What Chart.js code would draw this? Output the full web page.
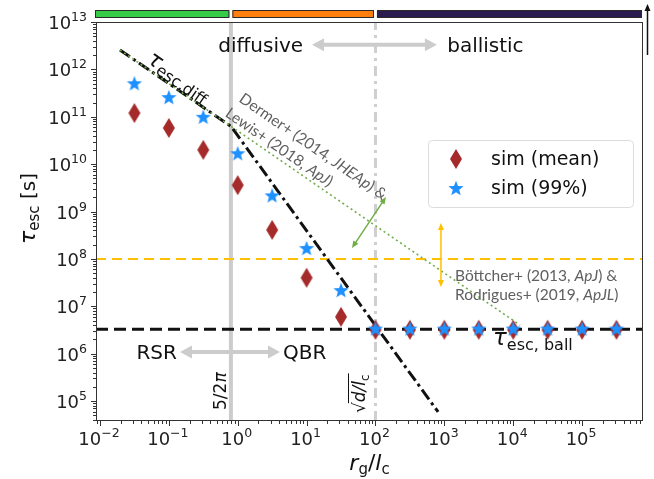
<!DOCTYPE html>
<html>
<head>
<meta charset="utf-8">
<script src="https://cdn.jsdelivr.net/npm/chart.js@4.4.0/dist/chart.umd.min.js"></script>
<style>
  html, body { margin: 0; padding: 0; background: #fff; }
</style>
</head>
<body>
<canvas id="chart" width="654" height="479"></canvas>
<script>
// --- data ---
const rgOverLc = [0.0316, 0.1, 0.316, 1, 3.16, 10, 31.6, 100, 316, 1000, 3160, 1e4, 3.16e4, 1e5, 3.16e5];
const tauMean = [1.2e11, 5.8e10, 2.0e10, 3.6e9, 4.1e8, 4.0e7, 6.0e6, 3.2e6, 3.2e6, 3.2e6, 3.2e6, 3.2e6, 3.2e6, 3.2e6, 3.2e6];
const tau99 = [5.1e11, 2.6e11, 1.0e11, 1.7e10, 2.2e9, 1.7e8, 2.2e7, 3.4e6, 3.4e6, 3.4e6, 3.4e6, 3.4e6, 3.4e6, 3.4e6, 3.4e6];

// analytic tau_esc,diff (slope -1 then -2)
const diffX = [0.0195, 0.796, 813];
const diffY = [2.57e12, 6.3e10, 5.9e4];
// Dermer / Lewis scaling
const litX = [0.0195, 1.26e4];
const litY = [2.57e12, 4.0e6];

const tauBall = 3.3e6;
const tauBottcher = 1e8;
const rsrQbr = 5 / (2 * Math.PI);
const sqrtDlc = 100;

const xLimits = [0.00875, 7.67e5];
const yLimits = [3.8e4, 1e13];
const xTickExp = [-2, -1, 0, 1, 2, 3, 4, 5];
const yTickExp = [5, 6, 7, 8, 9, 10, 11, 12, 13];

const FONT = "'DejaVu Sans', sans-serif";
const NOTE_FONT = "Lato, 'Open Sans', sans-serif";
const NOTE_SIZE = 15.5;

// marker images
function starImg(r, color) {
    const s = Math.ceil(r * 2) + 2;
    const c = document.createElement('canvas');
    c.width = c.height = s;
    const g = c.getContext('2d');
    g.translate(s / 2, s / 2 + r * 0.1);
    g.beginPath();
    for (let i = 0; i < 10; i++) {
        const rr = i % 2 ? r * 0.42 : r;
        const a = -Math.PI / 2 + i * Math.PI / 5;
        g.lineTo(rr * Math.cos(a), rr * Math.sin(a));
    }
    g.closePath();
    g.fillStyle = color;
    g.fill();
    return c;
}
function diamondImg(hw, hh, color) {
    const c = document.createElement('canvas');
    c.width = Math.ceil(hw * 2) + 2;
    c.height = Math.ceil(hh * 2) + 2;
    const g = c.getContext('2d');
    g.translate(c.width / 2, c.height / 2);
    g.beginPath();
    g.moveTo(0, -hh); g.lineTo(hw, 0); g.lineTo(0, hh); g.lineTo(-hw, 0);
    g.closePath();
    g.fillStyle = color;
    g.fill();
    return c;
}
const STAR = starImg(8, '#1e90ff');
const DIAMOND = diamondImg(6, 10, '#a52a2a');

const pts = (xs, ys) => xs.map((x, i) => ({ x, y: ys[i] }));

// text with sub/superscripts: parts = [text, size, italic, dy, family]
function rich(ctx, parts, x, y, align) {
    let w = 0;
    const ms = parts.map(p => {
        ctx.font = (p[2] ? 'italic ' : '') + p[1] + 'px ' + (p[4] || FONT);
        const m = ctx.measureText(p[0]).width;
        w += m;
        return m;
    });
    let cx = align === 'right' ? x - w : align === 'center' ? x - w / 2 : x;
    parts.forEach((p, i) => {
        ctx.font = (p[2] ? 'italic ' : '') + p[1] + 'px ' + (p[4] || FONT);
        ctx.fillText(p[0], cx, y + (p[3] || 0));
        cx += ms[i];
    });
    return w;
}

function arrow(ctx, x1, y1, x2, y2, color, lw, hl, hw, both) {
    const a = Math.atan2(y2 - y1, x2 - x1);
    const len = Math.hypot(x2 - x1, y2 - y1);
    ctx.save();
    ctx.translate(x1, y1);
    ctx.rotate(a);
    ctx.strokeStyle = color;
    ctx.fillStyle = color;
    ctx.lineWidth = lw;
    ctx.beginPath();
    ctx.moveTo(both ? hl * 0.8 : 0, 0);
    ctx.lineTo(len - hl * 0.8, 0);
    ctx.stroke();
    const head = (px, dir) => {
        ctx.beginPath();
        ctx.moveTo(px, 0);
        ctx.lineTo(px - dir * hl, -hw / 2);
        ctx.lineTo(px - dir * hl, hw / 2);
        ctx.closePath();
        ctx.fill();
    };
    head(len, 1);
    if (both) head(0, -1);
    ctx.restore();
}

const sup = n => String(n).replace('-', '\u2212');
const note = (t, it) => [t, NOTE_SIZE, !!it, 0, NOTE_FONT];

const annotations = {
    id: 'annotations',
    afterDatasetsDraw(chart) {
        const { ctx, scales: { x, y } } = chart;
        const X = v => x.getPixelForValue(v);
        const Y = v => y.getPixelForValue(v);
        // angle of a slope -1 power law on screen
        const decX = X(10) - X(1), decY = Y(1) - Y(10);
        const ang = Math.atan2(decY, decX);

        ctx.save();
        ctx.textBaseline = 'alphabetic';

        // diffusive <-> ballistic
        arrow(ctx, X(12), Y(3.3e12), X(780), Y(3.3e12), '#cccccc', 4, 12, 13, true);
        ctx.fillStyle = '#111';
        rich(ctx, [['diffusive', 20]], X(8.9), Y(3.3e12) + 7, 'right');
        rich(ctx, [['ballistic', 20]], X(1100), Y(3.3e12) + 7, 'left');

        // RSR <-> QBR
        arrow(ctx, X(0.145), Y(1.09e6), X(4.1), Y(1.09e6), '#cccccc', 4, 12, 13, true);
        rich(ctx, [['RSR', 20]], X(0.131), Y(1.09e6) + 7, 'right');
        rich(ctx, [['QBR', 20]], X(4.54), Y(1.09e6) + 7, 'left');

        // green and orange double arrows
        arrow(ctx, X(45.6), Y(1.7e8), X(142), Y(2.03e9), '#70ad47', 1.5, 7, 6, true);
        arrow(ctx, X(893), Y(2.56e7), X(893), Y(5.7e8), '#ffc000', 1.5, 7, 6, true);

        // tau_esc,diff
        ctx.save();
        ctx.translate(X(0.0466), Y(1.43e12));
        ctx.rotate(ang);
        ctx.fillStyle = '#111';
        rich(ctx, [['\u03c4', 22, true], ['esc,diff', 16, false, 4]], 0, 0, 'left');
        ctx.restore();

        // Dermer / Lewis
        ctx.save();
        ctx.translate(X(1.01), Y(2.15e11));
        ctx.rotate(ang);
        ctx.fillStyle = '#606060';
        rich(ctx, [note('Dermer+ (2014, '), note('JHEAp', true), note(') &')], 0, 0, 'left');
        rich(ctx, [note('Lewis+ (2018, '), note('ApJ', true), note(')')], -3, 20, 'left');
        ctx.restore();

        // Boettcher / Rodrigues
        ctx.fillStyle = '#606060';
        rich(ctx, [note('Böttcher+ (2013, '), note('ApJ', true), note(') &')], X(1430), Y(3.43e7), 'left');
        rich(ctx, [note('Rodrigues+ (2019, '), note('ApJL', true), note(')')], X(1430), Y(3.43e7) + 19, 'left');

        // tau_esc,ball
        ctx.fillStyle = '#111';
        rich(ctx, [['\u03c4', 23, true], ['esc, ball', 16, false, 5]], X(5080), Y(1.53e6), 'left');

        // 5/2pi and sqrt(d/lc)
        ctx.save();
        ctx.translate(X(0.676), Y(6.5e4));
        ctx.rotate(-Math.PI / 2);
        rich(ctx, [['5/2', 17], ['\u03c0', 17, true]], 0, 0, 'left');
        ctx.restore();

        ctx.save();
        ctx.translate(X(70.5), Y(5.6e4));
        ctx.rotate(-Math.PI / 2);
        const w0 = rich(ctx, [['\u221a', 17]], 0, 0, 'left');
        const w1 = rich(ctx, [['d/', 17, true], ['l', 17, true], ['c', 12, false, 4]], w0, 0, 'left');
        ctx.strokeStyle = '#111';
        ctx.lineWidth = 1;
        ctx.beginPath();
        ctx.moveTo(w0 - 1, -16.5);
        ctx.lineTo(w0 + w1 + 1, -16.5);
        ctx.stroke();
        ctx.restore();

        ctx.restore();
    },
    afterDraw(chart) {
        const { ctx, chartArea: ca, scales: { x, y } } = chart;
        const X = v => x.getPixelForValue(v);
        const Y = v => y.getPixelForValue(v);
        ctx.save();

        // frame
        ctx.strokeStyle = '#333';
        ctx.lineWidth = 1;
        ctx.strokeRect(ca.left + 0.5, ca.top + 0.5, ca.right - ca.left - 1, ca.bottom - ca.top - 1);

        // ticks
        ctx.beginPath();
        const lx0 = Math.floor(Math.log10(xLimits[0])), lx1 = Math.ceil(Math.log10(xLimits[1]));
        for (let e = lx0; e <= lx1; e++) {
            for (let k = 1; k <= 9; k++) {
                const v = k * Math.pow(10, e);
                if (v < xLimits[0] || v > xLimits[1]) continue;
                const px = Math.round(X(v)) + 0.5;
                ctx.moveTo(px, ca.bottom);
                ctx.lineTo(px, ca.bottom + (k === 1 ? 5 : 3));
            }
        }
        const ly0 = Math.floor(Math.log10(yLimits[0])), ly1 = Math.ceil(Math.log10(yLimits[1]));
        for (let e = ly0; e <= ly1; e++) {
            for (let k = 1; k <= 9; k++) {
                const v = k * Math.pow(10, e);
                if (v < yLimits[0] || v > yLimits[1] * 1.0001) continue;
                const py = Math.round(Y(v)) + 0.5;
                ctx.moveTo(ca.left, py);
                ctx.lineTo(ca.left - (k === 1 ? 5 : 3), py);
            }
        }
        ctx.stroke();

        // tick labels
        ctx.fillStyle = '#222';
        ctx.textBaseline = 'alphabetic';
        xTickExp.forEach(e => {
            rich(ctx, [['10', 18], [sup(e), 12.5, false, -8]], X(Math.pow(10, e)) - 1, ca.bottom + 24, 'center');
        });
        yTickExp.forEach(e => {
            rich(ctx, [['10', 18], [sup(e), 12.5, false, -8]], ca.left - 9, Y(Math.pow(10, e)) + 7, 'right');
        });

        // axis titles
        ctx.fillStyle = '#111';
        rich(ctx, [['r', 22, true], ['g', 15, false, 4], ['/', 22], ['l', 22, true], ['c', 15, false, 4]], (ca.left + ca.right) / 2, ca.bottom + 49, 'center');
        ctx.save();
        ctx.translate(ca.left - 61, (ca.top + ca.bottom) / 2 - 13);
        ctx.rotate(-Math.PI / 2);
        rich(ctx, [['\u03c4', 22, true], ['esc', 15, false, 4], [' [s]', 20]], 0, 0, 'center');
        ctx.restore();

        // regime bars above the axes
        const bars = [
            [xLimits[0], rsrQbr, '#37cc48'],
            [rsrQbr, sqrtDlc, '#ff7f0e'],
            [sqrtDlc, xLimits[1], '#2b1b4e']
        ];
        bars.forEach(([a, b, col], i) => {
            const x0 = X(a) + (i === 0 ? -1 : 1.5), x1 = X(b) - (i === 2 ? 1 : 1.5);
            ctx.fillStyle = col;
            ctx.fillRect(x0, ca.top - 11, x1 - x0, 6);
            ctx.strokeStyle = '#2a2a2a';
            ctx.lineWidth = 1;
            ctx.strokeRect(x0 + 0.5, ca.top - 11.5, x1 - x0 - 1, 7);
        });

        // arrow at the right edge
        arrow(ctx, ca.right + 4.5, ca.top + 33, ca.right + 4.5, ca.top - 18, '#111', 1.5, 7, 6, false);

        // legend
        const lx = ca.right - 215, ly = ca.top + 118, lw = 205, lh = 67;
        ctx.fillStyle = 'rgba(255,255,255,0.8)';
        ctx.strokeStyle = '#dcdcdc';
        ctx.lineWidth = 1;
        ctx.beginPath();
        ctx.roundRect(lx + 0.5, ly + 0.5, lw, lh, 4);
        ctx.fill();
        ctx.stroke();
        ctx.drawImage(DIAMOND, lx + 28 - DIAMOND.width / 2, ly + 19 - DIAMOND.height / 2);
        ctx.drawImage(STAR, lx + 28 - STAR.width / 2, ly + 48 - STAR.height / 2);
        ctx.fillStyle = '#111';
        rich(ctx, [['sim (mean)', 19]], lx + 63, ly + 25, 'left');
        rich(ctx, [['sim (99%)', 19]], lx + 63, ly + 54, 'left');

        ctx.restore();
    }
};

const lineDs = (data, color, width, dash, order) => ({
    data, borderColor: color, borderWidth: width, borderDash: dash,
    showLine: true, pointRadius: 0, fill: false, tension: 0, order
});

new Chart(document.getElementById('chart'), {
    type: 'scatter',
    data: {
        datasets: [
            { label: 'sim (99%)', data: pts(rgOverLc, tau99), pointStyle: STAR, pointRadius: 8, order: 0 },
            { label: 'sim (mean)', data: pts(rgOverLc, tauMean), pointStyle: DIAMOND, pointRadius: 8, order: 1 },
            lineDs(pts(litX, litY), '#70ad47', 1.6, [2, 3], 2),
            lineDs(pts(diffX, diffY), '#111111', 3, [12, 4, 3, 4], 3),
            lineDs(pts(xLimits, [tauBall, tauBall]), '#111111', 3, [12, 6], 4),
            lineDs(pts(xLimits, [tauBottcher, tauBottcher]), '#ffc000', 2, [10, 6], 5),
            lineDs(pts([sqrtDlc, sqrtDlc], yLimits), '#cfcfcf', 3, [10, 5, 3, 5], 6),
            lineDs(pts([rsrQbr, rsrQbr], yLimits), '#cccccc', 4, [], 7)
        ]
    },
    options: {
        responsive: false,
        animation: false,
        layout: { padding: { left: 96, right: 11, top: 22, bottom: 58 } },
        plugins: { legend: { display: false }, tooltip: { enabled: false } },
        scales: {
            x: { type: 'logarithmic', min: xLimits[0], max: xLimits[1], bounds: 'data', display: false },
            y: { type: 'logarithmic', min: yLimits[0], max: yLimits[1], bounds: 'data', display: false }
        }
    },
    plugins: [annotations]
});
</script>
</body>
</html>
